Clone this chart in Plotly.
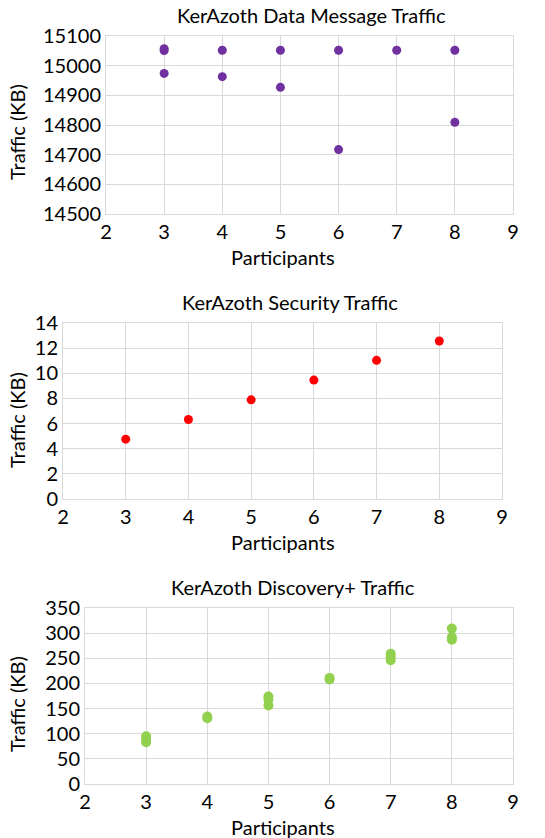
import plotly.graph_objects as go

# Data
dm_x = [3, 3, 3, 4, 4, 5, 5, 6, 6, 7, 8, 8]
dm_y = [15057, 15051, 14974, 15052, 14963, 15052, 14927, 15052, 14717, 15052, 15052, 14809]

sec_x = [3, 4, 5, 6, 7, 8]
sec_y = [4.76, 6.32, 7.89, 9.46, 11.03, 12.57]

disc_x = [3, 3, 3, 4, 4, 5, 5, 5, 6, 6, 7, 7, 7, 8, 8, 8]
disc_y = [95, 90, 83, 131, 134, 168, 174, 156, 208, 211, 259, 253, 246, 309, 292, 287]

titles = ["KerAzoth Data Message Traffic", "KerAzoth Security Traffic", "KerAzoth Discovery+ Traffic"]
x_title = "Participants"
y_title = "Traffic (KB)"

# page body has an 8px margin; figure sized to fit the remaining viewport
OFF = 8
W, H = 545 - OFF, 838 - OFF
FONT = "Lato"
GRID = "#d9d9d9"
FS = 20


def px(x):
    return (x - OFF) / W


def py(y):
    return 1 - (y - OFF) / H


fig = go.Figure()

panels = [
    dict(x=dm_x, y=dm_y, color="#7030A0", size=9, xr=(106, 513), yr=(36, 214),
         yrange=[14500, 15100], dtick=100, title_xy=(311, 15), xt_y=257, yt_y=132),
    dict(x=sec_x, y=sec_y, color="#FF0000", size=9, xr=(63, 502), yr=(323, 499),
         yrange=[0, 14], dtick=2, title_xy=(290, 302), xt_y=542, yt_y=420),
    dict(x=disc_x, y=disc_y, color="#92D050", size=10, xr=(85, 513), yr=(608, 784),
         yrange=[0, 350], dtick=50, title_xy=(293, 587), xt_y=827, yt_y=704),
]

annotations = []
for i, p in enumerate(panels):
    n = "" if i == 0 else str(i + 1)
    fig.add_trace(go.Scatter(x=p["x"], y=p["y"], mode="markers",
                             marker=dict(color=p["color"], size=p["size"]),
                             xaxis="x" + n, yaxis="y" + n, showlegend=False))
    xdom = [px(p["xr"][0]), px(p["xr"][1])]
    ydom = [py(p["yr"][1]), py(p["yr"][0])]
    fig.layout["xaxis" + n] = dict(domain=xdom, range=[2, 9], dtick=1, tick0=2,
                                   automargin=False,
                                   showgrid=True, gridcolor=GRID, gridwidth=1,
                                   showline=True, linecolor=GRID, mirror=True,
                                   zeroline=False, anchor="y" + n,
                                   tickfont=dict(family=FONT, size=FS, color="#000"))
    fig.layout["yaxis" + n] = dict(domain=ydom, range=p["yrange"], dtick=p["dtick"],
                                   tickformat="d", automargin=False,
                                   showgrid=True, gridcolor=GRID, gridwidth=1,
                                   showline=True, linecolor=GRID, mirror=True,
                                   zeroline=False, anchor="x" + n,
                                   tickfont=dict(family=FONT, size=FS, color="#000"))
    annotations.append(dict(text=titles[i], x=px(p["title_xy"][0]), y=py(p["title_xy"][1]),
                            xref="paper", yref="paper", showarrow=False,
                            xanchor="center", yanchor="middle",
                            font=dict(family=FONT, size=FS, color="#000")))
    annotations.append(dict(text=x_title, x=px(283), y=py(p["xt_y"]),
                            xref="paper", yref="paper", showarrow=False,
                            xanchor="center", yanchor="middle",
                            font=dict(family=FONT, size=FS, color="#000")))
    annotations.append(dict(text=y_title, x=px(17), y=py(p["yt_y"]), textangle=-90,
                            xref="paper", yref="paper", showarrow=False,
                            xanchor="center", yanchor="middle",
                            font=dict(family=FONT, size=FS, color="#000")))

fig.update_layout(width=W, height=H, margin=dict(l=0, r=0, t=0, b=0, pad=0),
                  paper_bgcolor="white", plot_bgcolor="white",
                  annotations=annotations, font=dict(family=FONT))

fig.write_html("out.html")
